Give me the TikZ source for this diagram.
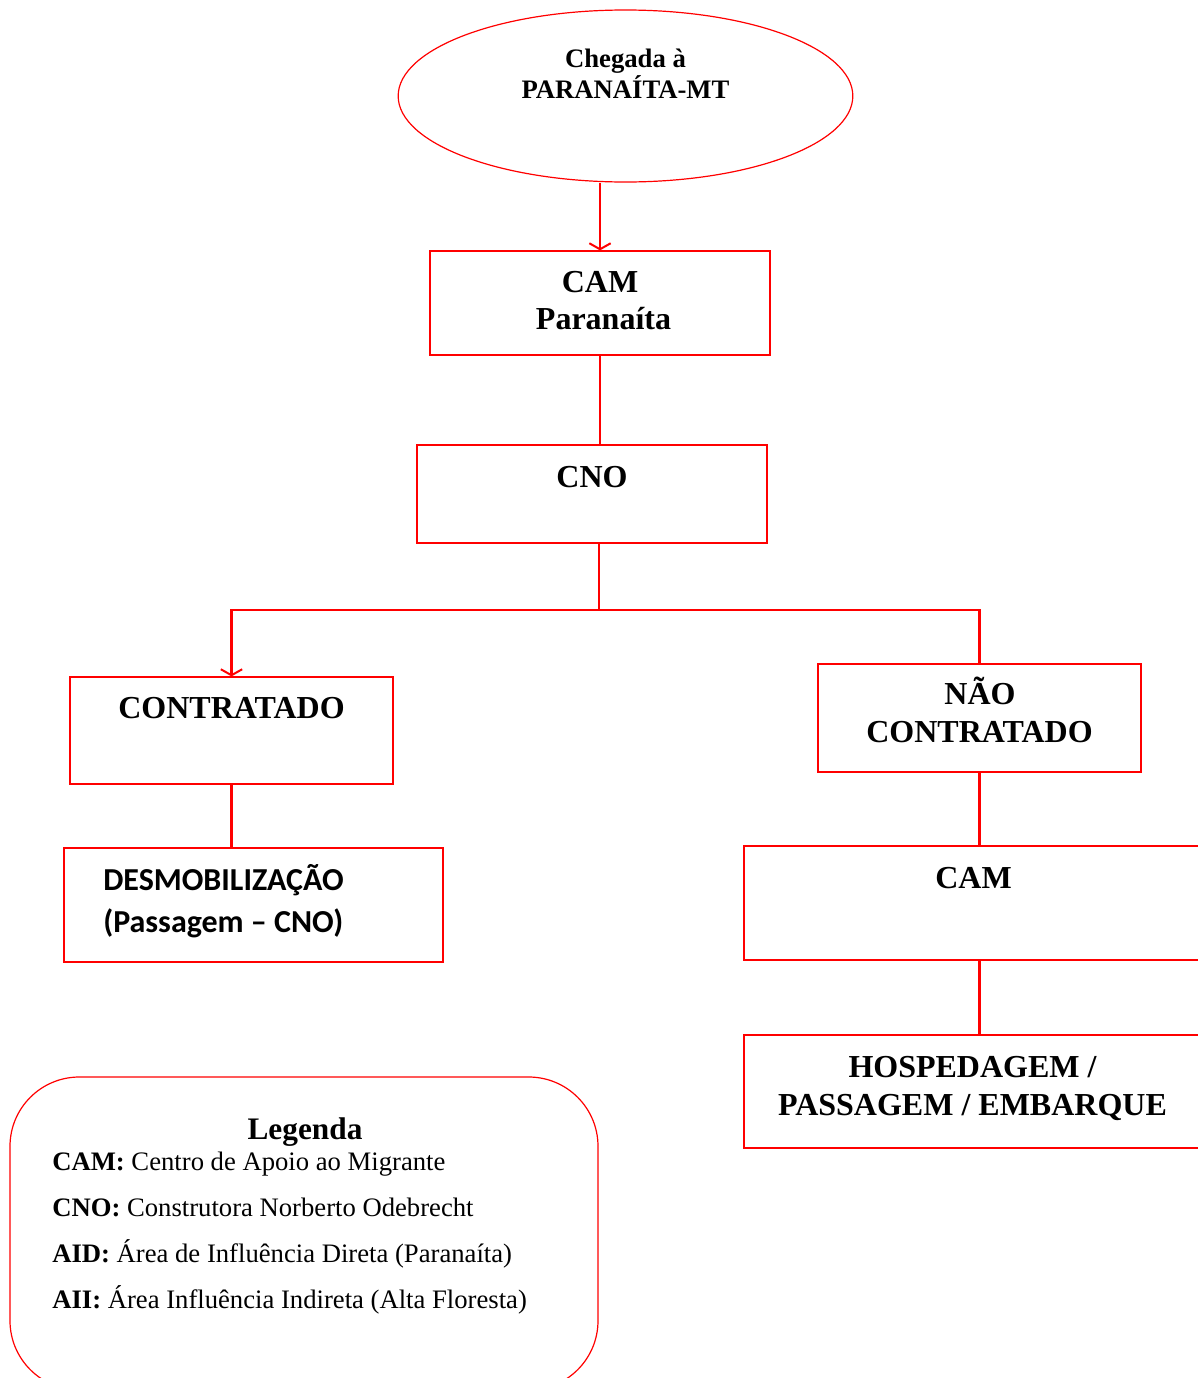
\documentclass[tikz,border=0pt]{standalone}
\usepackage{fontspec}
\setmainfont{Liberation Serif}
\newfontfamily\carlitofont{Carlito}
\usetikzlibrary{arrows.meta,shapes.geometric}
\definecolor{lred}{RGB}{255,0,0}
\tikzset{
  box/.style={draw=lred,line width=0.9pt,rectangle,inner sep=0pt},
  conn/.style={draw=lred,line width=1.8pt},
  arr/.style={-{Straight Barb[length=4.5pt,width=16pt,line width=1.5pt]}},
  big/.style={font=\fontsize{24}{28}\selectfont\bfseries,inner sep=0pt,anchor=base},
  ellt/.style={font=\fontsize{20}{24}\selectfont\bfseries,inner sep=0pt,anchor=base},
  dsm/.style={font=\fontsize{24}{28}\selectfont\carlitofont\bfseries,inner sep=0pt,anchor=base west},
  leg/.style={font=\fontsize{20}{24}\selectfont,inner sep=0pt,anchor=base west},
}
\begin{document}
\begin{tikzpicture}[x=0.75pt,y=-0.75pt]
\clip (0,0) rectangle (1198,1378);
\fill[white] (0,0) rectangle (1198,1378);
% shapes
\node[draw=lred,line width=0.9pt,ellipse,minimum width=341pt,minimum height=129pt,inner sep=0pt] (ell) at (625.5,96) {};
\node[box,minimum width=255pt,minimum height=78pt] (cam1) at (600,303) {};
\node[box,minimum width=262.5pt,minimum height=73.5pt] (cno) at (592,494) {};
\node[box,minimum width=242.25pt,minimum height=80.25pt] (contr) at (231.5,730.5) {};
\node[box,minimum width=242.25pt,minimum height=81pt] (nao) at (979.5,718) {};
\node[box,minimum width=284.25pt,minimum height=85.5pt] (desm) at (253.5,905) {};
\node[box,minimum width=364.5pt,minimum height=85.5pt] (cam2) at (987,903) {};
\node[box,minimum width=364.5pt,minimum height=84.75pt] (hosp) at (987,1091.5) {};
\draw[draw=lred,line width=0.9pt,rounded corners=52pt] (10,1077) rectangle (598,1390);
% texts
\node[ellt] (t1) at (625.5,67) {Chegada à};
\node[ellt] (t2) at (625.5,98) {PARANAÍTA-MT};
\node[big] (t3) at (600,292) {CAM};
\node[big] (t4) at (603.5,329) {Paranaíta};
\node[big] (t5) at (592,487) {CNO};
\node[big] (t6) at (231.5,718) {CONTRATADO};
\node[big] (t7) at (980,704) {NÃO};
\node[big] (t8) at (979.5,742) {CONTRATADO};
\node[dsm] (t9) at (103,890) {DESMOBILIZAÇÃO};
\node[dsm] (t10) at (103,932) {(Passagem – CNO)};
\node[big] (t11) at (973.5,888) {CAM};
\node[big] (t12) at (972.5,1077) {HOSPEDAGEM /};
\node[big] (t13) at (972.5,1115) {PASSAGEM / EMBARQUE};
\node[font=\fontsize{23.5}{28}\selectfont\bfseries,inner sep=0pt,anchor=base] (lg) at (305,1139) {Legenda};
\node[leg] (l1) at (52,1170) {\textbf{CAM:} Centro de Apoio ao Migrante};
\node[leg] (l2) at (52,1216) {\textbf{CNO:} Construtora Norberto Odebrecht};
\node[leg] (l3) at (52,1262) {\textbf{AID:} Área de Influência Direta (Paranaíta)};
\node[leg] (l4) at (52,1308) {\textbf{AII:} Área Influência Indireta (Alta Floresta)};
% connectors
\coordinate (j) at (599,610);
\draw[conn,arr] (cam1.north |- ell.south) -- (cam1.north);
\draw[conn] (cam1.south) -- (cam1.south |- cno.north);
\draw[conn] (j |- cno.south) -- (j);
\draw[conn,arr] (j) -| (contr.north);
\draw[conn] (j) -| (nao.north);
\draw[conn] (contr.south) -- (contr.south |- desm.north);
\draw[conn] (nao.south) -- (nao.south |- cam2.north);
\draw[conn] (nao.south |- cam2.south) -- (nao.south |- hosp.north);
\end{tikzpicture}
\end{document}
